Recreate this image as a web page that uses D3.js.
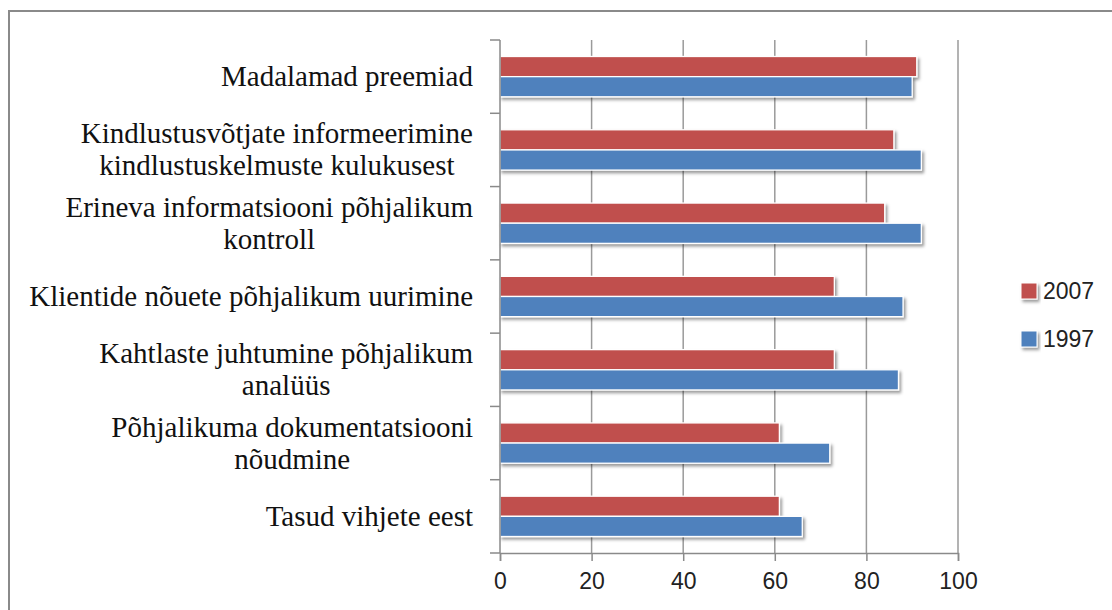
<!DOCTYPE html>
<html>
<head>
<meta charset="utf-8">
<script src="https://cdn.jsdelivr.net/npm/d3@7"></script>
<style>
html,body{margin:0;padding:0;background:#fff;}
svg{display:block;}
</style>
</head>
<body>
<svg id="chart" width="1112" height="610"></svg>
<script>
const categories = [
  "Madalamad preemiad",
  "Kindlustusvõtjate informeerimine\nkindlustuskelmuste kulukusest",
  "Erineva informatsiooni põhjalikum\nkontroll",
  "Klientide nõuete põhjalikum uurimine",
  "Kahtlaste juhtumine põhjalikum\nanalüüs",
  "Põhjalikuma dokumentatsiooni\nnõudmine",
  "Tasud vihjete eest"
];
const seriesNames = ["2007", "1997"];
const values2007 = [91, 86, 84, 73, 73, 61, 61];
const values1997 = [90, 92, 92, 88, 87, 72, 66];
const xTicks = [0, 20, 40, 60, 80, 100];
const colors = ["#C0504D", "#4F81BD"];

(function () {
const svg = d3.select("#chart");

// outer frame
svg.append("rect").attr("x", 9).attr("y", 11).attr("width", 1300).attr("height", 800)
  .attr("fill", "none").attr("stroke", "#8a8a8a").attr("stroke-width", 2);

const defs = svg.append("defs");
const f = defs.append("filter").attr("id", "shadow").attr("x", "-10%").attr("y", "-30%").attr("width", "130%").attr("height", "180%");
f.append("feDropShadow").attr("dx", 2).attr("dy", 2.5).attr("stdDeviation", 1.8)
  .attr("flood-color", "#000").attr("flood-opacity", 0.4);

const pLeft = 500, pRight = 958, pTop = 40, pBottom = 553;
const x = d3.scaleLinear().domain([0, 100]).range([pLeft, pRight]);
const pi = 0.45;
const y0 = d3.scaleBand().domain(categories).range([pTop, pBottom]).paddingInner(pi).paddingOuter(pi / 2);
const y1 = d3.scaleBand().domain(seriesNames).range([0, y0.bandwidth()]);

// gridlines
svg.append("g").selectAll("line").data(xTicks.slice(1)).join("line")
  .attr("x1", d => x(d)).attr("x2", d => x(d))
  .attr("y1", pTop).attr("y2", pBottom)
  .attr("stroke", "#9a9a9a").attr("stroke-width", 1.5);

// bars
const data = categories.map((c, i) => ({c, v: [values2007[i], values1997[i]]}));
const g = svg.append("g");
data.forEach(d => {
  seriesNames.forEach((s, j) => {
    g.append("rect")
      .attr("x", x(0)).attr("y", y0(d.c) + y1(s))
      .attr("width", x(d.v[j]) - x(0)).attr("height", y1.bandwidth())
      .attr("fill", colors[j]).attr("stroke", "#fff").attr("stroke-width", 1.3)
      .attr("filter", "url(#shadow)");
  });
});

// y axis line and boundary ticks
const step = y0.step();
const bounds = d3.range(categories.length + 1).map(i => pTop + i * step);
svg.append("line").attr("x1", pLeft).attr("x2", pLeft).attr("y1", pTop).attr("y2", pBottom)
  .attr("stroke", "#8a8a8a").attr("stroke-width", 1.5);
svg.append("g").selectAll("line").data(bounds).join("line")
  .attr("x1", pLeft - 10).attr("x2", pLeft).attr("y1", d => d).attr("y2", d => d)
  .attr("stroke", "#8a8a8a").attr("stroke-width", 1.5);

// x axis
const xAxis = d3.axisBottom(x).tickValues(xTicks).tickSize(8).tickPadding(12);
const xa = svg.append("g").attr("transform", `translate(0,${pBottom})`).call(xAxis);
xa.select(".domain").attr("stroke", "#8a8a8a").attr("stroke-width", 1.5);
xa.selectAll(".tick line").attr("stroke", "#8a8a8a").attr("stroke-width", 1.5);
xa.selectAll(".tick text").attr("font-family", "'Liberation Sans', Arial, sans-serif")
  .attr("font-size", 23).attr("fill", "#222");

// category labels
const labelRight = 473, lineH = 32;
categories.forEach(c => {
  const lines = c.split("\n");
  const cy = y0(c) + y0.bandwidth() / 2;
  const t = svg.append("text").attr("font-family", "'Liberation Serif', 'Times New Roman', serif")
    .attr("font-size", 29).attr("fill", "#111").attr("text-anchor", "middle");
  const spans = lines.map((l, i) => t.append("tspan").text(l)
    .attr("y", cy + (i - (lines.length - 1) / 2) * lineH).attr("dy", "0.33em"));
  const wmax = d3.max(spans, s => s.node().getComputedTextLength());
  spans.forEach(s => s.attr("x", labelRight - wmax / 2));
});

// legend
const legend = svg.append("g");
seriesNames.forEach((s, i) => {
  const ly = 291 + i * 48;
  legend.append("rect").attr("x", 1021).attr("y", ly - 8).attr("width", 16).attr("height", 16)
    .attr("fill", colors[i]).attr("stroke", "#fff").attr("stroke-width", 1).attr("filter", "url(#shadow)");
  legend.append("text").attr("x", 1043).attr("y", ly).attr("dy", "0.36em")
    .attr("font-family", "'Liberation Sans', Arial, sans-serif").attr("font-size", 23).attr("fill", "#222")
    .text(s);
});
})();
</script>
</body>
</html>
